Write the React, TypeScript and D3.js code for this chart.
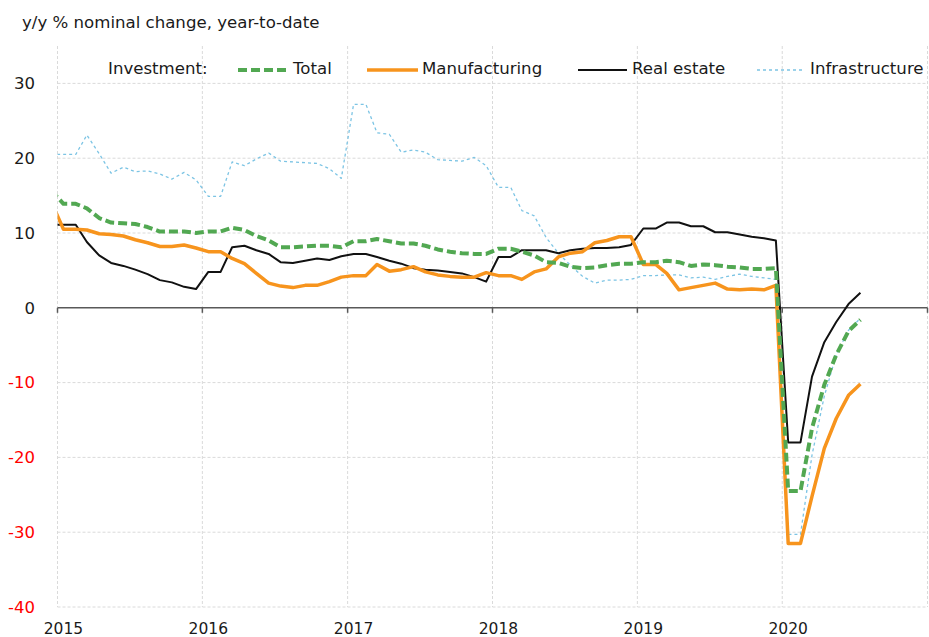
import React from "react";
import * as d3 from "d3";

// monthly year-to-date values, Dec 2014 .. Jul 2020 (Jan and Feb share the Jan-Feb figure)
const startYear = 2014;
const startMonth = 11; // December

const total = [
  15.7,
  13.9, 13.9, 13.3, 12.0, 11.4, 11.3, 11.2, 10.8, 10.2, 10.2, 10.2, 10.0,
  10.2, 10.2, 10.7, 10.4, 9.6, 9.0, 8.1, 8.1, 8.2, 8.3, 8.3, 8.1,
  8.9, 8.9, 9.2, 8.9, 8.6, 8.6, 8.3, 7.8, 7.5, 7.3, 7.2, 7.2,
  7.9, 7.9, 7.5, 7.0, 6.1, 6.0, 5.5, 5.3, 5.4, 5.7, 5.9, 5.9,
  6.1, 6.1, 6.3, 6.1, 5.6, 5.8, 5.7, 5.5, 5.4, 5.2, 5.2, 5.3,
  -24.5, -24.5, -16.1, -10.3, -6.3, -3.1, -1.6,
];

const manufacturing = [
  14.2,
  10.5, 10.5, 10.4, 9.9, 9.8, 9.6, 9.1, 8.7, 8.2, 8.2, 8.4, 8.0,
  7.5, 7.5, 6.6, 5.9, 4.6, 3.3, 2.9, 2.7, 3.0, 3.0, 3.5, 4.1,
  4.3, 4.3, 5.8, 4.9, 5.1, 5.5, 4.8, 4.4, 4.2, 4.1, 4.1, 4.7,
  4.3, 4.3, 3.8, 4.8, 5.2, 6.8, 7.3, 7.5, 8.7, 9.0, 9.5, 9.5,
  5.8, 5.8, 4.6, 2.4, 2.7, 3.0, 3.3, 2.5, 2.4, 2.5, 2.4, 3.0,
  -31.5, -31.5, -25.2, -18.8, -14.8, -11.7, -10.2,
];

const realEstate = [
  11.1,
  11.1, 11.1, 8.8, 7.0, 6.0, 5.6, 5.1, 4.5, 3.7, 3.4, 2.8, 2.5,
  4.8, 4.8, 8.1, 8.3, 7.7, 7.2, 6.1, 6.0, 6.3, 6.6, 6.4, 6.9,
  7.2, 7.2, 6.8, 6.3, 5.9, 5.3, 5.1, 5.0, 4.8, 4.6, 4.1, 3.5,
  6.8, 6.8, 7.7, 7.7, 7.7, 7.3, 7.7, 7.9, 8.0, 8.0, 8.1, 8.4,
  10.6, 10.6, 11.4, 11.4, 10.9, 10.9, 10.1, 10.1, 9.8, 9.5, 9.3, 9.0,
  -18.0, -18.0, -9.2, -4.6, -1.9, 0.5, 2.0,
];

const infrastructure = [
  20.5,
  20.5, 20.5, 23.1, 20.6, 18.0, 18.8, 18.2, 18.3, 17.9, 17.2, 18.1, 17.1,
  14.9, 14.9, 19.5, 19.0, 19.9, 20.7, 19.6, 19.5, 19.4, 19.3, 18.6, 17.3,
  27.2, 27.2, 23.4, 23.2, 20.8, 21.1, 20.8, 19.8, 19.7, 19.6, 20.1, 19.0,
  16.1, 16.1, 13.0, 12.3, 9.4, 7.3, 5.7, 4.2, 3.3, 3.7, 3.7, 3.8,
  4.3, 4.3, 4.4, 4.4, 4.0, 4.1, 3.8, 4.2, 4.5, 4.2, 4.0, 3.8,
  -30.3, -30.3, -19.7, -11.8, -6.3, -3.0, -1.4,
];

const yTicks = [30, 20, 10, 0, -10, -20, -30, -40];
const years = [2015, 2016, 2017, 2018, 2019, 2020, 2021];
const yearLabels = ["2015", "2016", "2017", "2018", "2019", "2020"];

const seriesList = [
  { name: "Total", values: total, color: "#52a852", width: 4, dash: "9,4" },
  { name: "Manufacturing", values: manufacturing, color: "#f7941d", width: 3.5, dash: null },
  { name: "Real estate", values: realEstate, color: "#111111", width: 2, dash: null },
  { name: "Infrastructure", values: infrastructure, color: "#7cc4e4", width: 1.3, dash: "3,3" },
];

const legendPos = [
  { x1: 238, x2: 288, tx: 293 },
  { x1: 367, x2: 418, tx: 422 },
  { x1: 578, x2: 627, tx: 632 },
  { x1: 757, x2: 802, tx: 810 },
];

const W = 929;
const H = 637;
const left = 57.5;
const right = 927.5;
const top = 46;
const bottom = 607;
const font = "'DejaVu Sans', sans-serif";

export default function App() {
  const x = d3
    .scaleTime()
    .domain([new Date(2015, 0, 1), new Date(2021, 0, 1)])
    .range([left, right]);
  const y = d3.scaleLinear().domain([-40, 35]).range([bottom, top]);

  const monthDate = (i: number) => new Date(startYear, startMonth + i, 16);

  const line = d3
    .line<number>()
    .x((_, i) => x(monthDate(i)))
    .y((d) => y(d));

  return (
    <svg
      width={W}
      height={H}
      style={{ position: "absolute", left: 0, top: 0, background: "#fff" }}
      fontFamily={font}
    >
      <defs>
        <clipPath id="plot">
          <rect x={left} y={top - 10} width={right - left} height={bottom - top + 10} />
        </clipPath>
      </defs>
      <rect width={W} height={H} fill="#fff" />

      <text x={22} y={28} fontSize={16.6} fill="#1a1a1a">
        y/y % nominal  change, year-to-date
      </text>

      {/* gridlines */}
      {yTicks
        .filter((t) => t !== 0)
        .map((t) => (
          <line
            key={"h" + t}
            x1={left}
            x2={right}
            y1={y(t)}
            y2={y(t)}
            stroke="#dadada"
            strokeWidth={1}
            strokeDasharray="3,2"
          />
        ))}
      {years.map((yr) => (
        <line
          key={"v" + yr}
          x1={x(new Date(yr, 0, 1))}
          x2={x(new Date(yr, 0, 1))}
          y1={top}
          y2={bottom}
          stroke="#dadada"
          strokeWidth={1}
          strokeDasharray="3,2"
        />
      ))}

      {/* zero axis */}
      <line x1={left} x2={right} y1={y(0)} y2={y(0)} stroke="#595959" strokeWidth={1.5} />
      {years.map((yr) => (
        <line
          key={"t" + yr}
          x1={x(new Date(yr, 0, 1))}
          x2={x(new Date(yr, 0, 1))}
          y1={y(0)}
          y2={y(0) + 5}
          stroke="#595959"
          strokeWidth={1.5}
        />
      ))}

      {/* y labels */}
      {yTicks.map((t) => (
        <text
          key={"yl" + t}
          x={35}
          y={y(t)}
          dy="0.35em"
          textAnchor="end"
          fontSize={16.5}
          fill={t < 0 ? "#ff0000" : "#1a1a1a"}
        >
          {t}
        </text>
      ))}

      {/* x labels */}
      {yearLabels.map((lbl) => (
        <text
          key={"xl" + lbl}
          x={x(new Date(+lbl, 0, 16))}
          y={634}
          textAnchor="middle"
          fontSize={15.5}
          fill="#1a1a1a"
        >
          {lbl}
        </text>
      ))}

      {/* series */}
      <g clipPath="url(#plot)">
        {[...seriesList].reverse().map((s) => (
          <path
            key={s.name}
            d={line(s.values) ?? ""}
            fill="none"
            stroke={s.color}
            strokeWidth={s.width}
            strokeDasharray={s.dash ?? undefined}
            strokeLinejoin="round"
          />
        ))}
      </g>

      {/* legend */}
      <text x={108} y={74} fontSize={16.6} fill="#1a1a1a">
        Investment:
      </text>
      {seriesList.map((s, i) => (
        <g key={"lg" + s.name}>
          <line
            x1={legendPos[i].x1}
            x2={legendPos[i].x2}
            y1={70}
            y2={70}
            stroke={s.color}
            strokeWidth={s.width}
            strokeDasharray={s.dash ?? undefined}
          />
          <text x={legendPos[i].tx} y={74} fontSize={16.6} fill="#1a1a1a">
            {s.name}
          </text>
        </g>
      ))}
    </svg>
  );
}
